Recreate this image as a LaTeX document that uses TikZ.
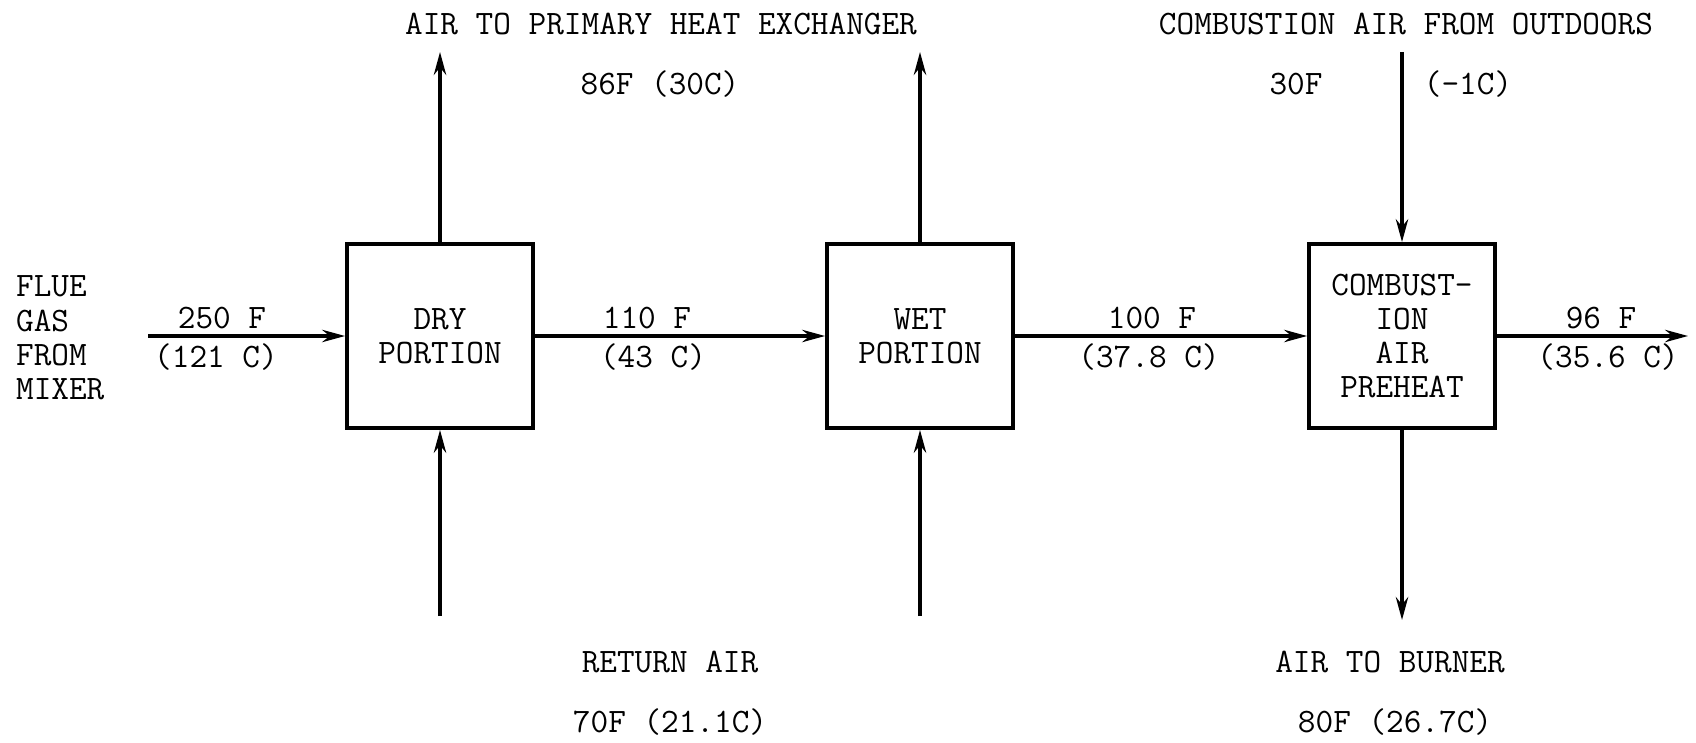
\documentclass[tikz,border=0pt]{standalone}
\usepackage{fontspec}
\usetikzlibrary{arrows.meta,positioning}

\begin{document}
\begin{tikzpicture}[x=0.02cm,y=-0.02cm,>={Stealth[length=13pt,width=7pt]},
  unit/.style={draw,line width=2.2pt,minimum width=3.72cm,minimum height=3.68cm,
    align=center,font=\ttfamily\fontsize{19.5}{19.5}\selectfont},
  lbl/.style={font=\ttfamily\fontsize{19.5}{19.5}\selectfont,align=center,inner sep=1pt},
  flow/.style={line width=2pt}]
\useasboundingbox (0,0) rectangle (1696,743);
% exchanger units
\node[unit] (dry) at (440,336) {DRY\\PORTION};
\node[unit] (wet) at (920,336) {WET\\PORTION};
\node[unit] (pre) at (1402,336) {COMBUST-\\ION\\AIR\\PREHEAT};
% free ends of the streams
\coordinate (fin) at (148,336);
\coordinate (fout) at (1688,336);
\coordinate (dryup) at (440,52);
\coordinate (drylow) at (440,616);
\coordinate (wetup) at (920,52);
\coordinate (wetlow) at (920,616);
\coordinate (airin) at (1402,52);
\coordinate (airout) at (1402,620);
% flue gas path
\draw[flow,->] (fin) -- (dry.west);
\draw[flow,->] (dry.east) -- (wet.west);
\draw[flow,->] (wet.east) -- (pre.west);
\draw[flow,->] (pre.east) -- (fout);
% air streams
\draw[flow,->] (dry.north) -- (dryup);
\draw[flow,->] (drylow) -- (dry.south);
\draw[flow,->] (wet.north) -- (wetup);
\draw[flow,->] (wetlow) -- (wet.south);
\draw[flow,->] (airin) -- (pre.north);
\draw[flow,->] (pre.south) -- (airout);
% labels
\node[lbl,align=left,anchor=west] (flue) at (14,338) {FLUE\\GAS\\FROM\\MIXER};
\node[lbl] (t250) at (222,318) {250 F};
\node[lbl] (c121) at (216,357) {(121 C)};
\node[lbl] (t110) at (647,318) {110 F};
\node[lbl] (c43) at (653,357) {(43 C)};
\node[lbl] (t100) at (1152,318) {100 F};
\node[lbl] (c378) at (1149,357) {(37.8 C)};
\node[lbl] (t96) at (1601,318) {96 F};
\node[lbl] (c356) at (1608,357) {(35.6 C)};
\node[lbl] (hxlbl) at (661,24) {AIR TO PRIMARY HEAT EXCHANGER};
\node[lbl] (hxtemp) at (660,84) {86F (30C)};
\node[lbl] (oalbl) at (1406,24) {COMBUSTION AIR FROM OUTDOORS};
\node[lbl] (oaf) at (1296,84) {30F};
\node[lbl] (oac) at (1468,84) {(-1C)};
\node[lbl] (ralbl) at (670,662) {RETURN AIR};
\node[lbl] (ratemp) at (670,722) {70F (21.1C)};
\node[lbl] (brlbl) at (1390,662) {AIR TO BURNER};
\node[lbl] (brtemp) at (1395,722) {80F (26.7C)};
\end{tikzpicture}
\end{document}
